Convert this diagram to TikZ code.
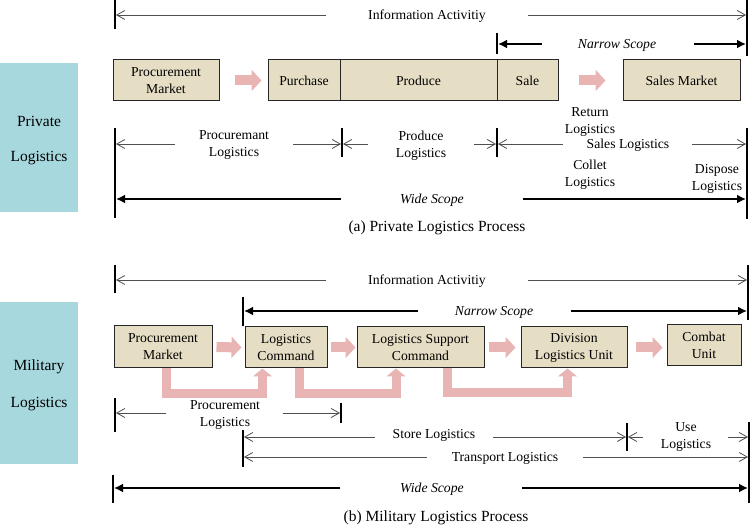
\documentclass[tikz,border=0pt]{standalone}
\usepackage{fontspec}
\setmainfont{Liberation Serif}
\usetikzlibrary{arrows.meta,calc}
\definecolor{boxfill}{RGB}{230,222,196}
\definecolor{tealc}{RGB}{166,216,221}
\definecolor{pinkc}{RGB}{232,180,180}
\definecolor{thinc}{RGB}{80,80,80}
\tikzset{
  txt/.style={font=\fontsize{13.7}{17}\selectfont, align=center, inner sep=0pt, yshift=-1.5pt},
  itxt/.style={txt, font=\fontsize{13.7}{17}\selectfont\itshape},
  captxt/.style={font=\fontsize{15.5}{18}\selectfont, inner sep=0pt, yshift=-1.5pt},
  sidebox/.style={fill=tealc, inner sep=0pt, align=center, font=\fontsize{15.5}{37}\selectfont},
  pbox/.style={draw=black!85, fill=boxfill, line width=1pt, inner sep=0pt, align=center,
    font=\fontsize{13.7}{17}\selectfont},
  thinarr/.style={draw=thinc, line width=0.8pt, -{Straight Barb[length=8pt,width=9pt]}},
  thickarr/.style={draw=black, line width=1.8pt, -{Latex[length=9pt,width=9pt]}},
  bar/.style={draw=black, line width=1.3pt},
  pinkarr/.style={draw=pinkc, line width=10pt, -{Triangle[length=10pt,width=21pt]}},
  pinkel/.style={draw=pinkc, line width=9pt, line join=miter, -{Triangle[length=8pt,width=19pt]}},
}
\begin{document}
\begin{tikzpicture}[x=1pt,y=-1pt]
\useasboundingbox (0,0) rectangle (753,529);

%% ================= (a) Private =================
\node[sidebox, minimum width=78pt, minimum height=149pt, anchor=north west] (side1) at (0,63) {};
\node[txt, font=\fontsize{15.5}{18}\selectfont] (side1a) at (39,120) {Private};
\node[txt, font=\fontsize{15.5}{18}\selectfont] (side1b) at (39,157) {Logistics};

% bars
\coordinate (b1t) at (115,0);   \coordinate (b1b) at (115,29);
\coordinate (b2t) at (747,0);   \coordinate (b2b) at (747,56);
\coordinate (b3t) at (497,33);  \coordinate (b3b) at (497,54);
\coordinate (b4t) at (115,128); \coordinate (b4b) at (115,218);
\coordinate (b5t) at (342,128); \coordinate (b5b) at (342,157);
\coordinate (b6t) at (497,128); \coordinate (b6b) at (497,157);
\coordinate (b7t) at (747,128); \coordinate (b7b) at (747,219);
\foreach \b in {1,...,7}{\draw[bar] (b\b t) -- (b\b b);}

% information activity
\node[txt] (ia) at (427,15) {Information Activitiy};
\coordinate (ia1) at (326,15); \coordinate (ia1e) at (116,15);
\coordinate (ia2) at (528,15); \coordinate (ia2e) at (746,15);
\draw[thinarr] (ia1) -- (ia1e);
\draw[thinarr] (ia2) -- (ia2e);

% narrow scope
\node[itxt] (ns) at (617,44) {Narrow Scope};
\coordinate (ns1) at (542,44); \coordinate (ns1e) at (498,44);
\coordinate (ns2) at (694,44); \coordinate (ns2e) at (746,44);
\draw[thickarr] (ns1) -- (ns1e);
\draw[thickarr] (ns2) -- (ns2e);

% boxes
\node[pbox, minimum width=106pt, minimum height=41pt] (pm) at (166,80.5) {Procurement\\Market};
\node[pbox, minimum width=72pt, minimum height=41pt] (pur) at (304,80.5) {Purchase};
\node[pbox, minimum width=157pt, minimum height=41pt] (prod) at (418.5,80.5) {Produce};
\node[pbox, minimum width=61pt, minimum height=41pt] (sale) at (527.5,80.5) {Sale};
\node[pbox, minimum width=117pt, minimum height=41pt] (sm) at (681.5,80.5) {Sales Market};
\draw[pinkarr, shorten <=15pt, shorten >=6pt] (pm.east) -- (pur.west);
\draw[pinkarr, shorten <=20pt, shorten >=17pt] (sale.east) -- (sm.west);

% logistics row
\node[txt] (pl) at (234,143.5) {Procuremant\\Logistics};
\node[txt] (prl) at (421,144.5) {Produce\\Logistics};
\node[txt] (sl) at (628,144) {Sales Logistics};
\node[txt] (rl) at (590,120) {Return\\Logistics};
\node[txt] (cl) at (590,173.5) {Collet\\Logistics};
\node[txt] (dl) at (717,177.5) {Dispose\\Logistics};
\coordinate (pl1) at (175,144); \coordinate (pl1e) at (116,144);
\coordinate (pl2) at (293,144); \coordinate (pl2e) at (341,144);
\coordinate (pr1) at (368,144); \coordinate (pr1e) at (343,144);
\coordinate (pr2) at (474,144); \coordinate (pr2e) at (496,144);
\coordinate (sl1) at (563,144); \coordinate (sl1e) at (498,144);
\coordinate (sl2) at (692,144); \coordinate (sl2e) at (746,144);
\foreach \a in {pl1,pl2,pr1,pr2,sl1,sl2}{\draw[thinarr] (\a) -- (\a e);}

% wide scope
\node[itxt] (ws) at (432,199) {Wide Scope};
\coordinate (ws1) at (341,199); \coordinate (ws1e) at (116,199);
\coordinate (ws2) at (523,199); \coordinate (ws2e) at (746,199);
\draw[thickarr] (ws1) -- (ws1e);
\draw[thickarr] (ws2) -- (ws2e);

\node[captxt] (capa) at (437,226) {(a) Private Logistics Process};

%% ================= (b) Military =================
\node[sidebox, minimum width=78pt, minimum height=162pt, anchor=north west] (side2) at (0,302) {};
\node[txt, font=\fontsize{15.5}{18}\selectfont] (side2a) at (39,365) {Military};
\node[txt, font=\fontsize{15.5}{18}\selectfont] (side2b) at (39,403) {Logistics};

\coordinate (c1t) at (115,265); \coordinate (c1b) at (115,293);
\coordinate (c2t) at (748,265); \coordinate (c2b) at (748,320);
\coordinate (c3t) at (243,297); \coordinate (c3b) at (243,326);
\coordinate (c4t) at (115,398); \coordinate (c4b) at (115,432);
\coordinate (c5t) at (341,403); \coordinate (c5b) at (341,423);
\coordinate (c6t) at (243,430); \coordinate (c6b) at (243,467);
\coordinate (c7t) at (627,423); \coordinate (c7b) at (627,451);
\coordinate (c8t) at (749,422); \coordinate (c8b) at (749,503);
\coordinate (c9t) at (113,475); \coordinate (c9b) at (113,503);
\foreach \b in {1,...,9}{\draw[bar] (c\b t) -- (c\b b);}

\node[txt] (ib) at (427,280) {Information Activitiy};
\coordinate (ib1) at (326,280); \coordinate (ib1e) at (116,280);
\coordinate (ib2) at (528,280); \coordinate (ib2e) at (747,280);
\draw[thinarr] (ib1) -- (ib1e);
\draw[thinarr] (ib2) -- (ib2e);

\node[itxt] (nb) at (494,311) {Narrow Scope};
\coordinate (nb1) at (418,311); \coordinate (nb1e) at (244,311);
\coordinate (nb2) at (571,311); \coordinate (nb2e) at (747,311);
\draw[thickarr] (nb1) -- (nb1e);
\draw[thickarr] (nb2) -- (nb2e);

\node[pbox, minimum width=98pt, minimum height=42pt] (pm2) at (163,347) {Procurement\\Market};
\node[pbox, minimum width=82pt, minimum height=41pt] (lc) at (286,347.5) {Logistics\\Command};
\node[pbox, minimum width=127pt, minimum height=41pt] (lsc) at (420.5,347.5) {Logistics Support\\Command};
\node[pbox, minimum width=106pt, minimum height=41pt] (dlu) at (574,347.5) {Division\\Logistics Unit};
\node[pbox, minimum width=74pt, minimum height=41pt] (cu) at (704,345.5) {Combat\\Unit};

\draw[pinkarr, shorten <=4pt, shorten >=3pt] (pm2.east) -- (lc.west);
\draw[pinkarr, shorten <=3pt, shorten >=1pt] (lc.east) -- (lsc.west);
\draw[pinkarr, shorten <=4pt, shorten >=5pt] (lsc.east) -- (dlu.west);
\draw[pinkarr, shorten <=8pt, shorten >=4pt] (dlu.east) -- (dlu.east -| cu.west);

\draw[pinkel] ([xshift=3pt]pm2.south) -- ++(0,25) -| ([xshift=-23.5pt]lc.south);
\draw[pinkel] ([xshift=13pt]lc.south) -- ++(0,25) -| ([xshift=-24.5pt]lsc.south);
\draw[pinkel] ([xshift=26.5pt]lsc.south) -- ++(0,24.5) -| ([xshift=-6.5pt]dlu.south);

\node[txt] (plb) at (225,413.5) {Procurement\\Logistics};
\coordinate (q1) at (166,413); \coordinate (q1e) at (116,413);
\coordinate (q2) at (283,413); \coordinate (q2e) at (340,413);
\node[txt] (stl) at (434,434) {Store Logistics};
\coordinate (q3) at (375,437); \coordinate (q3e) at (244,437);
\coordinate (q4) at (493,437); \coordinate (q4e) at (626,437);
\node[txt] (ul) at (686,435) {Use\\Logistics};
\coordinate (q5) at (643,437); \coordinate (q5e) at (628,437);
\coordinate (q6) at (728,437); \coordinate (q6e) at (748,437);
\node[txt] (tl) at (505,457) {Transport Logistics};
\coordinate (q7) at (427,457); \coordinate (q7e) at (244,457);
\coordinate (q8) at (583,457); \coordinate (q8e) at (748,457);
\foreach \a in {q1,q2,q3,q4,q5,q6,q7,q8}{\draw[thinarr] (\a) -- (\a e);}

\node[itxt] (wb) at (432,488) {Wide Scope};
\coordinate (wb1) at (340,488); \coordinate (wb1e) at (114,488);
\coordinate (wb2) at (522,488); \coordinate (wb2e) at (748,488);
\draw[thickarr] (wb1) -- (wb1e);
\draw[thickarr] (wb2) -- (wb2e);

\node[captxt] (capb) at (436,516) {(b) Military Logistics Process};
\end{tikzpicture}
\end{document}
